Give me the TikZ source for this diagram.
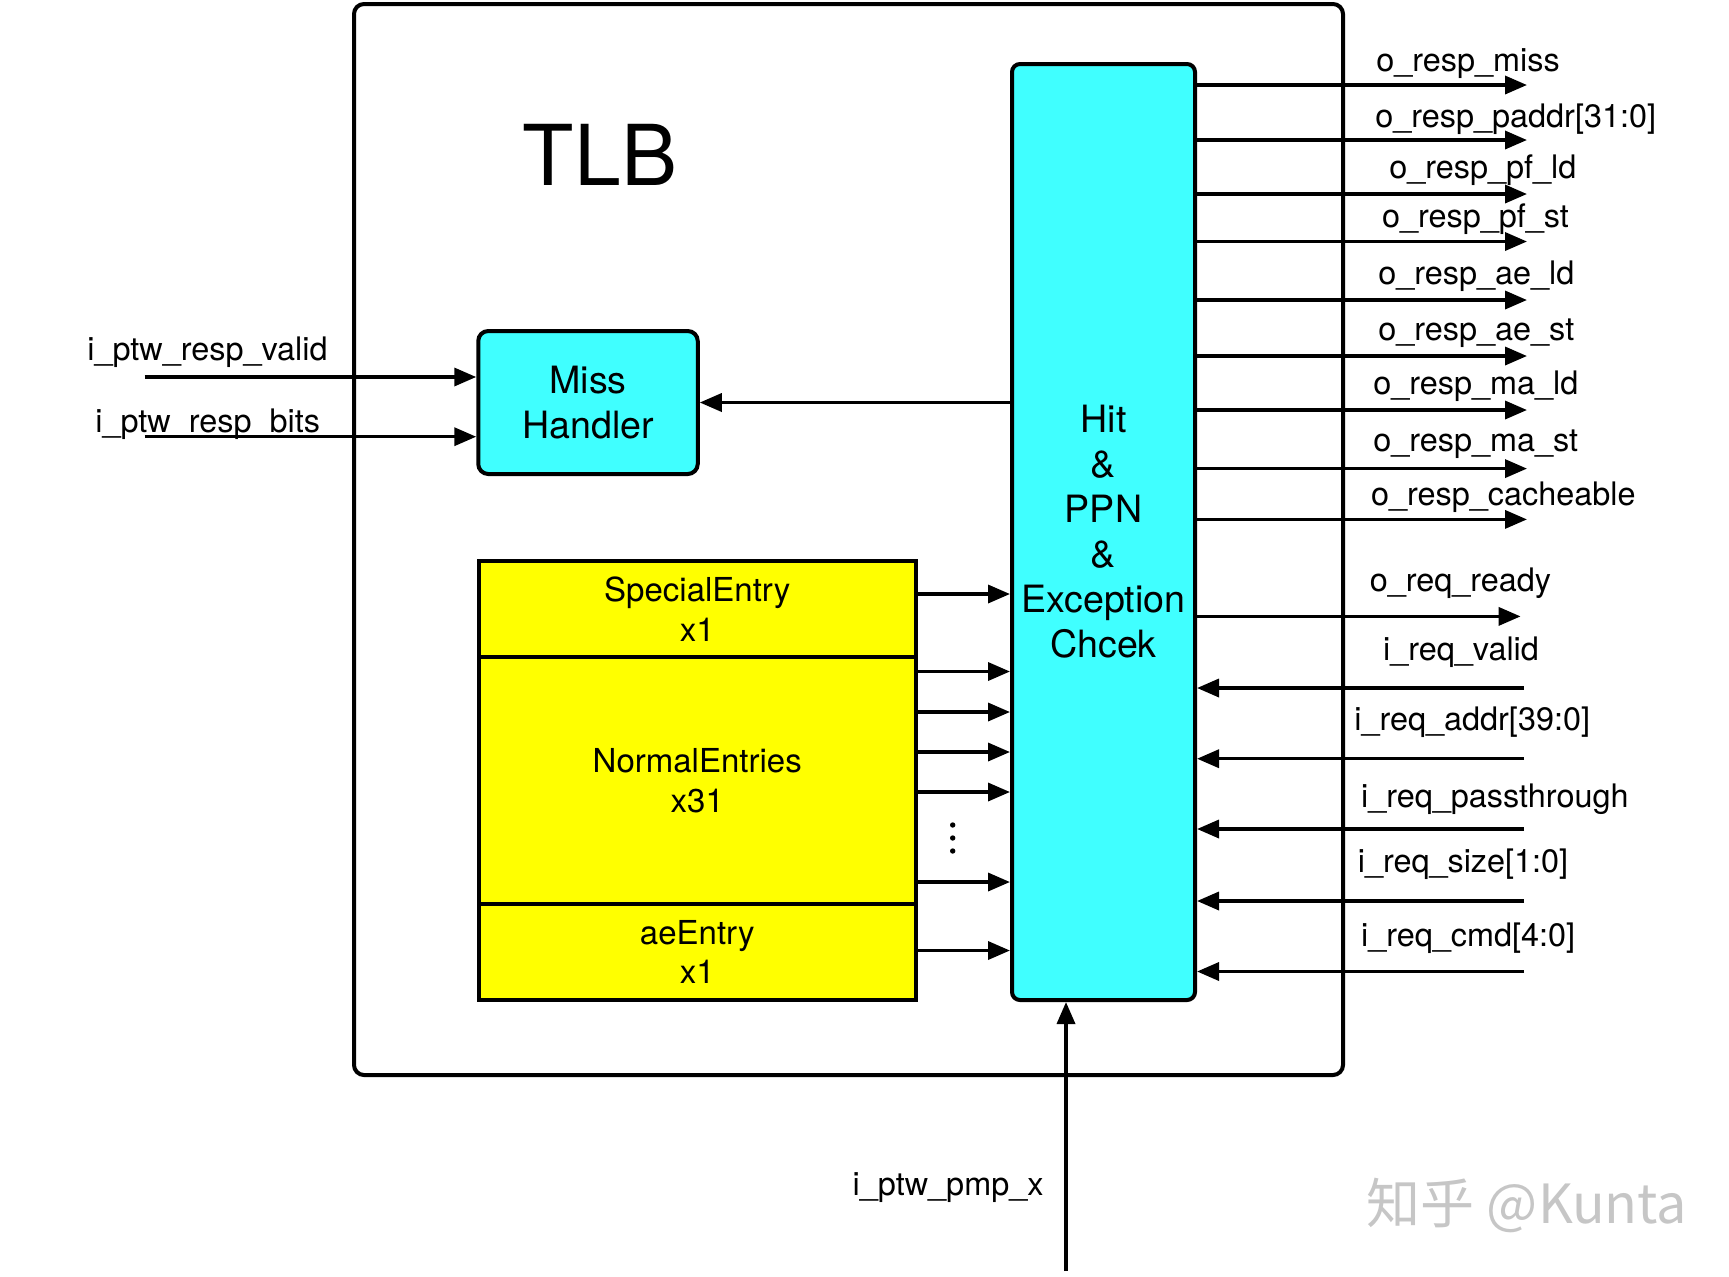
\documentclass[tikz,border=0pt]{standalone}
\usepackage{fontspec}
\setmainfont{TeX Gyre Heros}
\newfontfamily\cjkfont{Noto Sans CJK SC}
\usetikzlibrary{arrows.meta}
\definecolor{hitcyan}{RGB}{64,255,255}
\definecolor{entyellow}{RGB}{255,255,0}
\begin{document}
\begin{tikzpicture}[x=0.5pt,y=-0.5pt,
  sig/.style={line width=1.75pt,-{Triangle[length=11pt,width=9pt]}},
  lbl/.style={font=\fontsize{16.2}{19.5}\selectfont,inner sep=0pt,anchor=west},
  boxline/.style={draw,line width=2pt},
  entry/.style={boxline,fill=entyellow,minimum width=218.75pt,inner sep=0pt,align=center,
     font=\fontsize{16.5}{19.8}\selectfont},
  cyanbox/.style={boxline,fill=hitcyan,inner sep=0pt,align=center,
     font=\fontsize{18.8}{22.5}\selectfont}]
\useasboundingbox (0,0) rectangle (1729,1276);
% outer TLB box
\node[boxline,rounded corners=5pt,minimum width=494.5pt,minimum height=535.5pt,inner sep=0pt]
  (tlb) at (848.5,539.5) {};
\node[font=\fontsize{42}{50}\selectfont,inner sep=0pt] (tlbtitle) at (600,155) {TLB};
% blocks
\node[cyanbox,rounded corners=5pt,minimum width=109.75pt,minimum height=71.5pt]
  (miss) at (588,402.5) {Miss\\Handler};
\node[cyanbox,rounded corners=4pt,minimum width=91.5pt,minimum height=468pt]
  (hit) at (1103.5,532) {Hit\\\&\\PPN\\\&\\Exception\\Chcek};
\node[entry,minimum height=48pt] (special) at (697.25,609) {SpecialEntry\\x1};
\node[entry,minimum height=123.5pt] (normal) at (697.25,780.5) {NormalEntries\\x31};
\node[entry,minimum height=48pt] (ae) at (697.25,952) {aeEntry\\x1};
% hit -> miss
\draw[sig] (hit.west |- miss.east) -- (miss.east);
% entries -> hit
\coordinate (s1) at (0,594);
\draw[sig] (special.east |- s1) -- (hit.west |- s1);
\foreach \yy [count=\i] in {671.5,712,752,792,882} {
  \coordinate (n\i) at (0,\yy);
  \draw[sig] (normal.east |- n\i) -- (hit.west |- n\i);
}
\coordinate (a1) at (0,950.5);
\draw[sig] (ae.east |- a1) -- (hit.west |- a1);
\foreach \yy [count=\i] in {825,838,851} {
  \fill (952.7,\yy) circle (1.35pt) coordinate (dot\i);
}
% left inputs
\coordinate (pv) at (144.5,377);
\coordinate (pb) at (144.5,436.7);
\draw[sig] (pv) -- (miss.west |- pv);
\draw[sig] (pb) -- (miss.west |- pb);
\node[lbl] (lpv) at (87,352.5) {i\_ptw\_resp\_valid};
\node[lbl] (lpb) at (95,424) {i\_ptw\_resp\_bits};
% outputs
\foreach \ly/\ex/\lx/\yy/\t [count=\i] in {
   85/1527/1376/63.6/{o\_resp\_miss},
   140/1527/1375/118.8/{o\_resp\_paddr[31:0]},
   194/1527/1389/170.6/{o\_resp\_pf\_ld},
   241.5/1527/1381.7/219/{o\_resp\_pf\_st},
   300/1527/1378/276.5/{o\_resp\_ae\_ld},
   356/1527/1378/332.7/{o\_resp\_ae\_st},
   410/1527/1373/386.7/{o\_resp\_ma\_ld},
   468.6/1527/1373/444/{o\_resp\_ma\_st},
   519.4/1527/1370.7/497/{o\_resp\_cacheable},
   616.4/1520.6/1369.5/583/{o\_req\_ready}} {
  \coordinate (oe\i) at (\ex,\ly);
  \draw[sig] (hit.east |- oe\i) -- (oe\i);
  \node[lbl] (ol\i) at (\lx,\yy) {\t};
}
% inputs
\foreach \ly/\lx/\yy/\t [count=\i] in {
   688/1382.8/652.5/{i\_req\_valid},
   758.7/1354/722/{i\_req\_addr[39:0]},
   829/1360.7/799/{i\_req\_passthrough},
   901/1357.4/864/{i\_req\_size[1:0]},
   971.5/1360.7/938/{i\_req\_cmd[4:0]}} {
  \coordinate (ie\i) at (1524,\ly);
  \draw[sig] (ie\i) -- (hit.east |- ie\i);
  \node[lbl] (il\i) at (\lx,\yy) {\t};
}
% bottom input
\coordinate (pmp) at (1066,1271);
\draw[sig] (pmp) -- (pmp |- hit.south);
\node[lbl,anchor=east] (lpmp) at (1044,1188) {i\_ptw\_pmp\_x};
% watermark
\node[font=\cjkfont\fontsize{27}{32}\selectfont,text=gray!45,inner sep=0pt] (wm) at (1527,1205) {知乎 @Kunta};
\end{tikzpicture}
\end{document}
